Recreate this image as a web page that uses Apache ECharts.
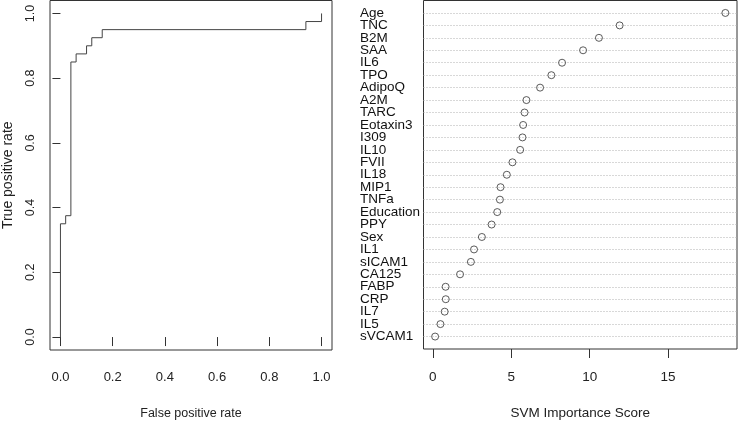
<!DOCTYPE html>
<html>
<head>
<meta charset="utf-8">
<script src="https://cdn.jsdelivr.net/npm/echarts@6/dist/echarts.min.js"></script>
<style>
html,body{margin:0;padding:0;background:#fff;}
#chart{width:738px;height:425px;}
</style>
</head>
<body>
<div id="chart"></div>
<script>
// ROC curve vertices (false positive rate, true positive rate)
const fpr = [0, 0, 0.02, 0.02, 0.04, 0.04, 0.06, 0.06, 0.10, 0.10, 0.12, 0.12, 0.16, 0.16, 0.94, 0.94, 1.0, 1.0];
const tpr = [0, 0.35, 0.35, 0.375, 0.375, 0.85, 0.85, 0.875, 0.875, 0.9, 0.9, 0.925, 0.925, 0.95, 0.95, 0.975, 0.975, 1.0];
const rocTicks = [0, 0.2, 0.4, 0.6, 0.8, 1.0];

// SVM importance
const features = ['Age','TNC','B2M','SAA','IL6','TPO','AdipoQ','A2M','TARC','Eotaxin3','I309','IL10','FVII','IL18','MIP1','TNFa','Education','PPY','Sex','IL1','sICAM1','CA125','FABP','CRP','IL7','IL5','sVCAM1'];
const scores = [18.65, 11.91, 10.59, 9.58, 8.24, 7.56, 6.84, 5.97, 5.85, 5.76, 5.72, 5.57, 5.08, 4.72, 4.32, 4.28, 4.11, 3.75, 3.13, 2.63, 2.43, 1.74, 0.82, 0.83, 0.76, 0.49, 0.15];
const scoreTicks = [0, 5, 10, 15];

const REG = "'Liberation Sans',Arial,sans-serif";
const TXT = '#222';

const yCats = [''].concat(features).concat([' ']);

const chart = echarts.init(document.getElementById('chart'), null, {renderer: 'canvas'});
chart.setOption({
  animation: false,
  backgroundColor: '#fff',
  grid: [
    {left: 48.5, top: 0.5, width: 283.5, height: 350, show: true, borderColor: '#333', borderWidth: 1, backgroundColor: 'transparent'},
    {left: 423.5, top: 0.5, width: 313.5, height: 350, show: true, borderColor: '#333', borderWidth: 1, backgroundColor: 'transparent'}
  ],
  xAxis: [
    {
      gridIndex: 0, type: 'value', min: -0.04, max: 1.04,
      axisLine: {show: false},
      axisTick: {show: true, length: 9, inside: false, customValues: rocTicks, lineStyle: {color: '#333'}},
      axisLabel: {customValues: rocTicks, formatter: v => v.toFixed(1), margin: 21, fontFamily: REG, fontSize: 13, color: TXT},
      splitLine: {show: false},
      name: 'False positive rate', nameLocation: 'middle', nameGap: 57,
      nameTextStyle: {fontFamily: REG, fontSize: 12.5, color: TXT}
    },
    {
      gridIndex: 1, type: 'value', min: -0.59, max: 19.39,
      axisLine: {show: false},
      axisTick: {show: true, length: 9, inside: false, customValues: scoreTicks, lineStyle: {color: '#333'}},
      axisLabel: {customValues: scoreTicks, margin: 21, fontFamily: REG, fontSize: 13.5, color: TXT},
      splitLine: {show: false},
      name: 'SVM Importance Score', nameLocation: 'middle', nameGap: 57,
      nameTextStyle: {fontFamily: REG, fontSize: 13.5, color: TXT}
    }
  ],
  yAxis: [
    {
      gridIndex: 0, type: 'value', min: -0.04, max: 1.04,
      axisLine: {show: false},
      axisTick: {show: true, length: 8, inside: false, customValues: rocTicks, lineStyle: {color: '#333'}},
      axisLabel: {customValues: rocTicks, formatter: v => v.toFixed(1), rotate: 90, margin: 13, fontFamily: REG, fontSize: 12.5, color: TXT},
      splitLine: {show: false},
      name: 'True positive rate', nameLocation: 'middle', nameGap: 35, nameRotate: 90,
      nameTextStyle: {fontFamily: REG, fontSize: 14, color: TXT}
    },
    {
      gridIndex: 1, type: 'category', data: yCats, inverse: true, boundaryGap: false,
      axisLine: {show: false},
      axisTick: {show: false},
      axisLabel: {interval: 0, align: 'left', margin: 63.5, fontFamily: REG, fontSize: 13.5, color: '#111'},
      splitLine: {show: true, interval: (i) => i > 0 && i < yCats.length - 1, lineStyle: {type: [1, 2], color: '#b0b0b0', width: 1}}
    }
  ],
  series: [
    {
      type: 'line', xAxisIndex: 0, yAxisIndex: 0,
      data: fpr.map((x, i) => [x, tpr[i]]),
      showSymbol: false, symbol: 'none',
      lineStyle: {color: '#444', width: 1},
      silent: true
    },
    {
      type: 'scatter', xAxisIndex: 1, yAxisIndex: 1,
      data: scores.map((v, i) => [v, features[i]]),
      symbol: 'circle', symbolSize: 7,
      itemStyle: {color: 'rgba(255,255,255,0)', borderColor: '#333', borderWidth: 1},
      silent: true
    }
  ]
});
</script>
</body>
</html>
